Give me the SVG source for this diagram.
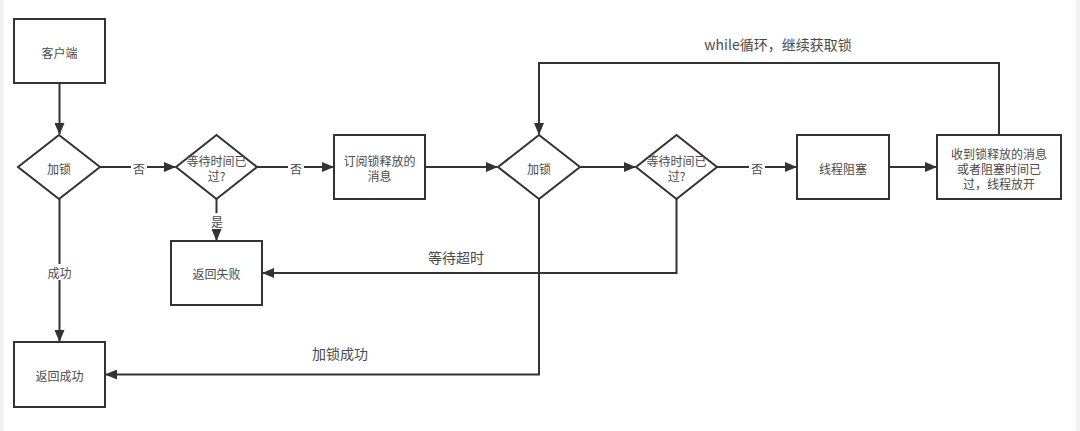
<svg xmlns="http://www.w3.org/2000/svg" width="1080" height="431" viewBox="0 0 1080 431">
<style>
.n{fill:#fff;stroke:#333;stroke-width:2}
.t{font-family:"Noto Sans CJK SC","Liberation Sans",sans-serif;font-size:12px;fill:#4a4a4a;text-anchor:middle;dominant-baseline:central}
.b{font-size:14px}
.e{fill:none;stroke:#333;stroke-width:2}
.lb{fill:#fff}
</style>
<defs>
<marker id="a" markerWidth="12" markerHeight="10" refX="11" refY="5" orient="auto" markerUnits="userSpaceOnUse">
<path d="M0,0 L12,5 L0,10 Z" fill="#333"/>
</marker>
</defs>
<rect x="0" y="0" width="1080" height="431" fill="#fff"/>
<rect x="0" y="0" width="3" height="431" fill="#f2f2f2"/>
<rect x="1076" y="0" width="4" height="431" fill="#f2f2f2"/>
<g id="edges">
<path class="e" d="M59.5,83 V134" marker-end="url(#a)"/>
<path class="e" d="M100,167 H175" marker-end="url(#a)"/>
<path class="e" d="M257,167 H333" marker-end="url(#a)"/>
<path class="e" d="M216.5,199 V240" marker-end="url(#a)"/>
<path class="e" d="M59.5,199 V341" marker-end="url(#a)"/>
<path class="e" d="M425,167 H497" marker-end="url(#a)"/>
<path class="e" d="M580,167 H635" marker-end="url(#a)"/>
<path class="e" d="M717,167 H796" marker-end="url(#a)"/>
<path class="e" d="M889,167 H936" marker-end="url(#a)"/>
<path class="e" d="M999,135 V63 H539 V134" marker-end="url(#a)"/>
<path class="e" d="M676.5,199 V273 H263" marker-end="url(#a)"/>
<path class="e" d="M539,199 V374.5 H106" marker-end="url(#a)"/>
<rect class="lb" x="131" y="159" width="16" height="16"/>
<text class="t" x="139" y="168">否</text>
<rect class="lb" x="288" y="159" width="16" height="16"/>
<text class="t" x="296" y="168">否</text>
<rect class="lb" x="749" y="159" width="16" height="16"/>
<text class="t" x="757" y="168">否</text>
<rect class="lb" x="209" y="213" width="16" height="16"/>
<text class="t" x="217" y="221">是</text>
<rect class="lb" x="44" y="264" width="31" height="16"/>
<text class="t" x="59.5" y="272">成功</text>
<text class="t b" x="778" y="44">while循环，继续获取锁</text>
<text class="t b" x="456" y="257">等待超时</text>
<text class="t b" x="340" y="353">加锁成功</text>
</g>
<g id="client"><rect class="n" x="14" y="19" width="91" height="64"/><text class="t" x="59.5" y="52">客户端</text></g>
<g id="lock1"><path class="n" d="M59,135 L100,167 L59,199 L18,167 Z"/><text class="t" x="59" y="168">加锁</text></g>
<g id="wait1"><path class="n" d="M216.5,135 L257,167 L216.5,199 L176,167 Z"/><text class="t" x="216.5" y="160">等待时间已</text><text class="t" x="216.5" y="175">过?</text></g>
<g id="subscribe"><rect class="n" x="334" y="135" width="91" height="64"/><text class="t" x="379.5" y="160">订阅锁释放的</text><text class="t" x="379.5" y="175">消息</text></g>
<g id="lock2"><path class="n" d="M539,135 L580,167 L539,199 L498,167 Z"/><text class="t" x="539" y="168">加锁</text></g>
<g id="wait2"><path class="n" d="M676.5,135 L717,167 L676.5,199 L636,167 Z"/><text class="t" x="676.5" y="160">等待时间已</text><text class="t" x="676.5" y="175">过?</text></g>
<g id="block"><rect class="n" x="797" y="135" width="92" height="64"/><text class="t" x="843" y="168">线程阻塞</text></g>
<g id="wake"><rect class="n" x="937" y="135" width="124" height="64"/><text class="t" x="999" y="153">收到锁释放的消息</text><text class="t" x="999" y="168">或者阻塞时间已</text><text class="t" x="999" y="183">过，线程放开</text></g>
<g id="fail"><rect class="n" x="171" y="241" width="91" height="64"/><text class="t" x="216.5" y="273">返回失败</text></g>
<g id="success"><rect class="n" x="14" y="342" width="91" height="65"/><text class="t" x="59.5" y="375">返回成功</text></g>
</svg>
